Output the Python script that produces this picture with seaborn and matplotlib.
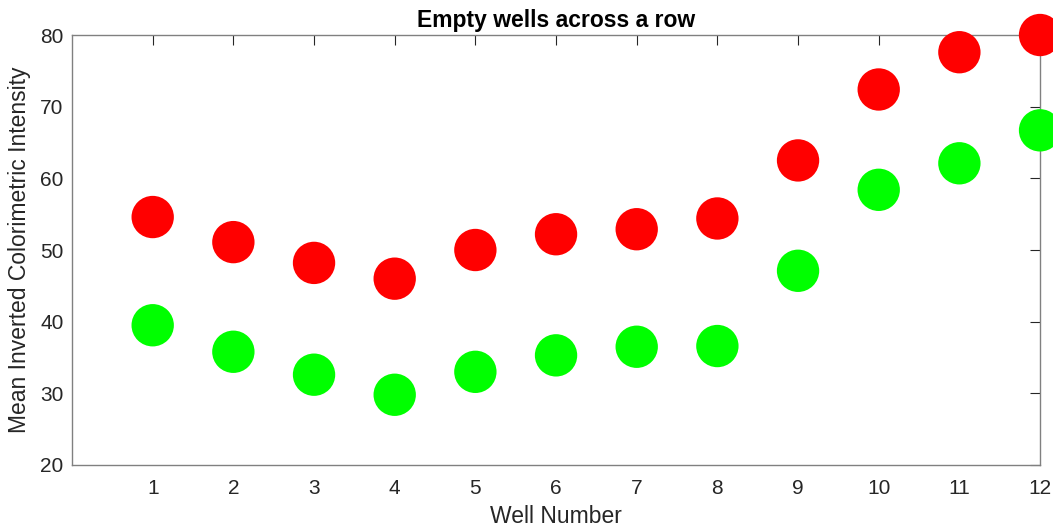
import matplotlib
matplotlib.use("Agg")
import matplotlib.pyplot as plt
import seaborn as sns
import pandas as pd

wells = [1, 2, 3, 4, 5, 6, 7, 8, 9, 10, 11, 12]
red_values = [54.6, 51.1, 48.2, 46.0, 50.0, 52.2, 52.9, 54.4, 62.5, 72.4, 77.6, 80.0]
green_values = [39.5, 35.8, 32.6, 29.8, 33.0, 35.3, 36.5, 36.6, 47.1, 58.4, 62.1, 66.7]
series_names = ["Red", "Green"]
y_ticks = [20, 30, 40, 50, 60, 70, 80]

df = pd.DataFrame({
    "well": wells * 2,
    "value": red_values + green_values,
    "series": [series_names[0]] * len(wells) + [series_names[1]] * len(wells),
})

sns.set_style("white")
plt.rcParams["font.family"] = ["Liberation Sans", "DejaVu Sans"]

fig = plt.figure(figsize=(10.53, 5.29), dpi=100)
ax = fig.add_axes([0.0684, 0.121, 0.9193, 0.8128])

sns.scatterplot(data=df, x="well", y="value", hue="series",
                palette={"Red": "#ff0000", "Green": "#00ff00"},
                s=930, edgecolor="none", linewidth=0, legend=False,
                clip_on=False, ax=ax, zorder=3)

ax.set_xlim(0, 12)
ax.set_ylim(20, 80)
ax.set_xticks(wells)
ax.set_yticks(y_ticks)
ax.tick_params(direction="in", length=7, width=0.8, color="#262626",
               labelsize=15, labelcolor="#262626", top=True, right=True)
ax.tick_params(axis="x", pad=10)
ax.tick_params(axis="y", pad=6)
for sp in ax.spines.values():
    sp.set_color("#808080")
    sp.set_linewidth(1.0)

ax.set_xlabel("Well Number", fontsize=16.5, color="#262626", labelpad=5)
ax.set_ylabel("Mean Inverted Colorimetric Intensity", fontsize=16.5,
              color="#262626", labelpad=7)
ax.set_title("Empty wells across a row", fontsize=16.5, fontweight="bold",
             color="black", pad=6)

fig.savefig("out.png", dpi=100)
